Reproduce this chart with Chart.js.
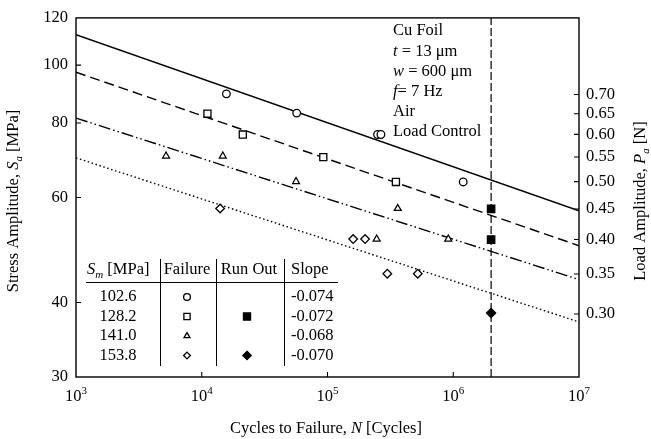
<!DOCTYPE html>
<html lang="en">
<head>
<meta charset="UTF-8" />
<title>Cu Foil S-N Curves</title>
<script src="https://cdn.jsdelivr.net/npm/chart.js"></script>
<style>
  html, body { margin: 0; padding: 0; background: #fff; }
  canvas { display: block; }
</style>
</head>
<body>
<canvas id="snChart" width="651" height="439"></canvas>
<script>
const FONT = "'Liberation Serif', 'Times New Roman', serif";
const FS = 16.5;

// table rows
const meanStress = ["102.6", "128.2", "141.0", "153.8"];
const slopes = ["-0.074", "-0.072", "-0.068", "-0.070"];
const markerStyles = ["circle", "rect", "triangle", "rectRot"];
const hasRunOut = [false, true, false, true];

// failures (N cycles, Sa MPa)
const n1026 = [15700, 56900, 250000, 266000, 1200000];
const s1026 = [89.5, 83.1, 76.5, 76.5, 63.7];
const n1282 = [11100, 21200, 92600, 350000];
const s1282 = [82.9, 76.5, 70.1, 63.7];
const n1410 = [5200, 14700, 56200, 362000, 246000, 913000];
const s1410 = [70.4, 70.4, 63.8, 57.5, 51.1, 51.1];
const n1538 = [14000, 160000, 199000, 299000, 522000];
const s1538 = [57.5, 51.1, 51.1, 44.7, 44.7];

// run outs at 2e6 cycles
const runOutN = 2e6;
const runOut1282 = [57.4, 51.0];
const runOut1538 = [38.4];

// fitted lines, end points at 1e3 and 1e7
const fitN = [1e3, 1e7];
const fit1026 = [112.5, 57.0];
const fit1282 = [97.3, 49.8];
const fit1410 = [81.5, 43.7];
const fit1538 = [69.9, 37.1];

const xTicks = [1e3, 1e4, 1e5, 1e6, 1e7];
const yTicks = [30, 40, 60, 80, 100, 120];
const loadTicks = [0.30, 0.35, 0.40, 0.45, 0.50, 0.55, 0.60, 0.65, 0.70];
const Y_MIN = 30, Y_MAX = 120;
const LOAD_PER_MPA = 0.00784;

const pts = (xs, ys) => xs.map((x, i) => ({ x, y: ys[i] }));

function scatterSet(data, style, filled, r) {
  return {
    type: "scatter", data, pointStyle: style, pointRadius: r,
    pointBackgroundColor: filled ? "#000" : "#fff",
    pointBorderColor: "#000", pointBorderWidth: 1.3, showLine: false
  };
}
function lineSet(data, dash, width) {
  return {
    type: "line", data, borderColor: "#000", borderWidth: width || 1.3,
    borderDash: dash, pointRadius: 0, fill: false, tension: 0
  };
}

function fontFor(p, size) {
  const s = (p.sub || p.sup) ? Math.round(size * 0.68) : size;
  return (p.i ? "italic " : "") + s + "px " + FONT;
}
function richWidth(ctx, parts, size) {
  let w = 0;
  parts.forEach(p => { ctx.font = fontFor(p, size); w += ctx.measureText(p.t).width; });
  return w;
}
function drawRich(ctx, parts, x, y, size, align) {
  const w = richWidth(ctx, parts, size);
  let cx = align === "center" ? x - w / 2 : x;
  ctx.textAlign = "left";
  ctx.textBaseline = "middle";
  parts.forEach(p => {
    ctx.font = fontFor(p, size);
    const dy = p.sub ? size * 0.3 : (p.sup ? -size * 0.38 : 0);
    ctx.fillText(p.t, cx, y + dy);
    cx += ctx.measureText(p.t).width;
  });
}
function marker(ctx, style, x, y, r, filled) {
  ctx.beginPath();
  if (style === "circle") ctx.arc(x, y, r, 0, Math.PI * 2);
  else if (style === "rect") { const h = r * Math.SQRT1_2; ctx.rect(x - h, y - h, 2 * h, 2 * h); }
  else if (style === "triangle") {
    ctx.moveTo(x, y - r);
    ctx.lineTo(x + r * 0.866, y + r * 0.5);
    ctx.lineTo(x - r * 0.866, y + r * 0.5);
    ctx.closePath();
  } else {
    ctx.moveTo(x, y - r); ctx.lineTo(x + r, y); ctx.lineTo(x, y + r); ctx.lineTo(x - r, y); ctx.closePath();
  }
  ctx.fillStyle = filled ? "#000" : "#fff";
  ctx.fill();
  ctx.lineWidth = 1.3;
  ctx.strokeStyle = "#000";
  ctx.stroke();
}

const decor = {
  id: "decor",
  afterDraw(chart) {
    const ctx = chart.ctx;
    const a = chart.chartArea;
    const sx = chart.scales.x, sy = chart.scales.y, sy2 = chart.scales.y2;
    ctx.save();
    ctx.fillStyle = "#000";
    ctx.strokeStyle = "#000";

    // frame + inward ticks
    ctx.lineWidth = 1.4;
    ctx.strokeRect(a.left, a.top, a.right - a.left, a.bottom - a.top);
    ctx.lineWidth = 1.1;
    ctx.beginPath();
    xTicks.slice(1, -1).forEach(v => {
      const px = sx.getPixelForValue(v);
      ctx.moveTo(px, a.bottom); ctx.lineTo(px, a.bottom - 5);
    });
    yTicks.slice(1, -1).forEach(v => {
      const py = sy.getPixelForValue(v);
      ctx.moveTo(a.left, py); ctx.lineTo(a.left + 5, py);
    });
    loadTicks.forEach(v => {
      const py = sy2.getPixelForValue(v);
      ctx.moveTo(a.right, py); ctx.lineTo(a.right - 5, py);
    });
    ctx.stroke();

    // x tick labels 10^n
    xTicks.forEach(v => {
      const px = sx.getPixelForValue(v);
      drawRich(ctx, [{ t: "10" }, { t: String(Math.round(Math.log10(v))), sup: true }], px, a.bottom + 20, FS, "center");
    });

    // axis titles
    drawRich(ctx, [{ t: "Cycles to Failure, " }, { t: "N", i: true }, { t: " [Cycles]" }],
      326, 429, FS, "center");
    ctx.save();
    ctx.translate(14, 201);
    ctx.rotate(-Math.PI / 2);
    drawRich(ctx, [{ t: "Stress Amplitude, " }, { t: "S", i: true }, { t: "a", i: true, sub: true }, { t: " [MPa]" }], 0, 0, FS, "center");
    ctx.restore();
    ctx.save();
    ctx.translate(641, 201);
    ctx.rotate(-Math.PI / 2);
    drawRich(ctx, [{ t: "Load Amplitude, " }, { t: "P", i: true }, { t: "a", i: true, sub: true }, { t: " [N]" }], 0, 0, FS, "center");
    ctx.restore();

    // test conditions
    const info = [
      [{ t: "Cu Foil" }],
      [{ t: "t", i: true }, { t: " = 13 \u03bcm" }],
      [{ t: "w", i: true }, { t: " = 600 \u03bcm" }],
      [{ t: "f", i: true }, { t: "= 7 Hz" }],
      [{ t: "Air" }],
      [{ t: "Load Control" }]
    ];
    info.forEach((parts, i) => drawRich(ctx, parts, 393, 31 + i * 20.2, FS, "left"));

    // table
    const headY = 270, rowY0 = 297, rowH = 19.5;
    drawRich(ctx, [{ t: "S", i: true }, { t: "m", i: true, sub: true }, { t: " [MPa]" }], 87, headY, FS, "left");
    drawRich(ctx, [{ t: "Failure" }], 187, headY, FS, "center");
    drawRich(ctx, [{ t: "Run Out" }], 249, headY, FS, "center");
    drawRich(ctx, [{ t: "Slope" }], 291, headY, FS, "left");
    ctx.lineWidth = 1;
    ctx.beginPath();
    ctx.moveTo(86, 282.5); ctx.lineTo(338, 282.5);
    [160.5, 216.5, 284.5].forEach(x => { ctx.moveTo(x, 259); ctx.lineTo(x, 366); });
    ctx.stroke();
    meanStress.forEach((m, i) => {
      const y = rowY0 + i * rowH;
      ctx.fillStyle = "#000";
      drawRich(ctx, [{ t: m }], 118, y, FS, "center");
      drawRich(ctx, [{ t: slopes[i] }], 291, y, FS, "left");
      marker(ctx, markerStyles[i], 187, y, markerStyles[i] === "rect" ? 4.4 : 3.4, false);
      if (hasRunOut[i]) marker(ctx, markerStyles[i], 247, y, markerStyles[i] === "rect" ? 5 : 4.2, true);
    });
    ctx.restore();
  }
};

Chart.defaults.font.family = FONT;
Chart.defaults.color = "#000";

new Chart(document.getElementById("snChart"), {
  data: {
    datasets: [
      scatterSet(pts(n1026, s1026), "circle", false, 3.8),
      scatterSet(pts(n1282, s1282), "rect", false, 5),
      scatterSet(pts(n1410, s1410), "triangle", false, 4),
      scatterSet(pts(n1538, s1538), "rectRot", false, 4.3),
      scatterSet(pts(runOut1282.map(() => runOutN), runOut1282), "rect", true, 5.2),
      scatterSet(pts(runOut1538.map(() => runOutN), runOut1538), "rectRot", true, 4.6),
      lineSet(pts(fitN, fit1026), [], 1.5),
      lineSet(pts(fitN, fit1282), [10, 5], 1.4),
      lineSet(pts(fitN, fit1410), [12, 3, 1.5, 3, 1.5, 3], 1.4),
      lineSet(pts(fitN, fit1538), [1.5, 2.6], 1.4),
      lineSet(pts([runOutN, runOutN], [Y_MIN, Y_MAX]), [8, 3], 1.2)
    ]
  },
  options: {
    responsive: false,
    animation: false,
    layout: { padding: { top: 16, left: 0, right: 0, bottom: 0 }, autoPadding: false },
    plugins: { legend: { display: false }, tooltip: { enabled: false } },
    scales: {
      x: {
        type: "logarithmic", position: "bottom", min: 1e3, max: 1e7,
        afterBuildTicks: s => { s.ticks = xTicks.map(v => ({ value: v })); },
        afterFit: s => { s.height = 62; },
        ticks: { display: false },
        grid: { display: false, drawTicks: false },
        border: { display: false }
      },
      y: {
        type: "logarithmic", position: "left", min: Y_MIN, max: Y_MAX,
        afterBuildTicks: s => { s.ticks = yTicks.map(v => ({ value: v })); },
        afterFit: s => { s.width = 76; },
        ticks: { callback: v => String(v), font: { size: FS }, padding: 8, color: "#000" },
        grid: { display: false, drawTicks: false },
        border: { display: false }
      },
      y2: {
        type: "logarithmic", position: "right",
        min: Y_MIN * LOAD_PER_MPA, max: Y_MAX * LOAD_PER_MPA,
        afterBuildTicks: s => { s.ticks = loadTicks.map(v => ({ value: v })); },
        afterFit: s => { s.width = 72; },
        ticks: { callback: v => v.toFixed(2), font: { size: FS }, padding: 7, color: "#000" },
        grid: { display: false, drawTicks: false },
        border: { display: false }
      }
    }
  },
  plugins: [decor]
});
</script>
</body>
</html>
